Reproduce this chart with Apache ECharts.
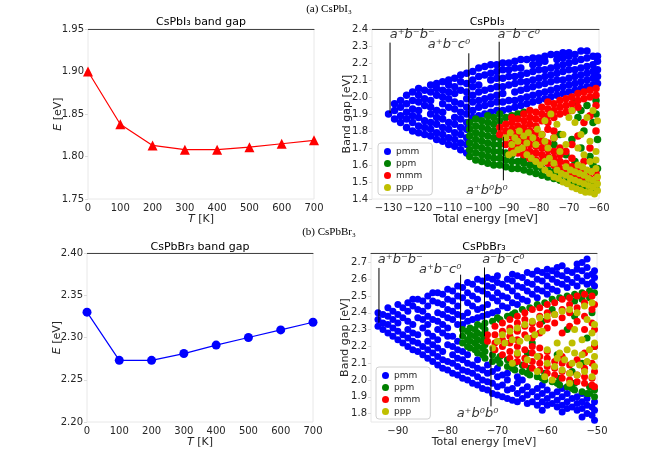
<!DOCTYPE html>
<html>
<head>
<meta charset="utf-8">
<script src="https://cdn.jsdelivr.net/npm/echarts@6/dist/echarts.min.js"></script>
<style>
  html, body { margin: 0; padding: 0; background: #fff; }
  #main { width: 658px; height: 456px; }
</style>
</head>
<body>
<div id="main"></div>
<script>
// band gap vs temperature
var temps = [0, 100, 200, 300, 400, 500, 600, 700];
var gapI = [1.900, 1.838, 1.813, 1.808, 1.808, 1.811, 1.815, 1.819];
var gapBr = [2.330, 2.273, 2.273, 2.281, 2.291, 2.300, 2.309, 2.318];

// tick values
var tickXI = [-130, -120, -110, -100, -90, -80, -70, -60];
var tickXBr = [-90, -80, -70, -60, -50];
var tickYBr = [1.8, 1.9, 2.0, 2.1, 2.2, 2.3, 2.4, 2.5, 2.6, 2.7];

// CsPbI3 scatter, columns: [energy, gap, gap, ...]
var pmmI = [
  [-130, 1.90],
  [-128, 1.87, 1.92, 1.96],
  [-126, 1.85, 1.89, 1.94, 1.98],
  [-124, 1.82, 1.87, 1.91, 1.96, 2.01],
  [-122, 1.80, 1.85, 1.89, 1.93, 1.98, 2.03],
  [-120, 1.79, 1.83, 1.88, 1.92, 1.97, 2.01, 2.05],
  [-118, 1.78, 1.82, 1.86, 1.95, 1.99, 2.04],
  [-116, 1.77, 1.81, 1.85, 1.90, 1.94, 1.98, 2.03, 2.07],
  [-114, 1.75, 1.79, 1.84, 1.88, 1.92, 2.01, 2.05, 2.08],
  [-112, 1.74, 1.78, 1.82, 1.87, 1.91, 1.96, 2.00, 2.04, 2.09],
  [-110, 1.72, 1.76, 1.81, 1.85, 1.94, 1.99, 2.03, 2.07, 2.10],
  [-108, 1.71, 1.75, 1.79, 1.84, 1.88, 1.93, 1.97, 2.02, 2.06, 2.11],
  [-106, 1.69, 1.73, 1.78, 1.82, 1.87, 1.91, 1.96, 2.04, 2.09, 2.13],
  [-104, 1.67, 1.72, 1.76, 1.81, 1.85, 1.90, 1.94, 1.99, 2.03, 2.08, 2.14],
  [-102, 1.88, 1.92, 1.97, 2.01, 2.06, 2.10, 2.15],
  [-100, 1.89, 1.94, 1.98, 2.03, 2.07, 2.12, 2.17],
  [-98, 1.90, 1.95, 1.99, 2.04, 2.13, 2.18],
  [-96, 1.91, 1.96, 2.00, 2.05, 2.10, 2.14, 2.19],
  [-94, 1.92, 1.97, 2.01, 2.06, 2.11, 2.15, 2.19],
  [-92, 1.92, 1.97, 2.02, 2.06, 2.11, 2.16, 2.20],
  [-90, 1.93, 1.98, 2.07, 2.12, 2.16, 2.20],
  [-88, 1.94, 1.98, 2.03, 2.08, 2.12, 2.17, 2.21],
  [-86, 1.95, 1.99, 2.04, 2.09, 2.13, 2.17, 2.22],
  [-84, 1.96, 2.00, 2.05, 2.09, 2.14, 2.22],
  [-82, 1.97, 2.01, 2.06, 2.10, 2.15, 2.19, 2.23],
  [-80, 1.98, 2.02, 2.07, 2.11, 2.16, 2.20, 2.23],
  [-78, 1.99, 2.03, 2.08, 2.12, 2.16, 2.21, 2.24],
  [-76, 2.00, 2.04, 2.09, 2.13, 2.17, 2.25],
  [-74, 2.01, 2.05, 2.10, 2.14, 2.18, 2.22, 2.25],
  [-72, 2.02, 2.06, 2.10, 2.15, 2.19, 2.23, 2.26],
  [-70, 2.03, 2.07, 2.11, 2.16, 2.20, 2.24, 2.26],
  [-68, 2.04, 2.08, 2.12, 2.16, 2.21, 2.25],
  [-66, 2.05, 2.09, 2.13, 2.17, 2.22, 2.27],
  [-64, 2.06, 2.10, 2.14, 2.18, 2.23, 2.27],
  [-62, 2.07, 2.11, 2.15, 2.19, 2.24],
  [-60.5, 2.08, 2.12, 2.16, 2.21, 2.24]
];
var ppmI = [
  [-103, 1.65, 1.69, 1.73, 1.77, 1.81, 1.85],
  [-101, 1.63, 1.67, 1.71, 1.75, 1.79, 1.83, 1.87],
  [-99, 1.62, 1.66, 1.70, 1.74, 1.78, 1.82, 1.86],
  [-97, 1.61, 1.65, 1.69, 1.73, 1.77, 1.81, 1.85, 1.89],
  [-95, 1.60, 1.64, 1.68, 1.72, 1.76, 1.80, 1.84, 1.88],
  [-93, 1.60, 1.64, 1.68, 1.72, 1.76, 1.86, 1.90],
  [-91, 1.59, 1.63, 1.67, 1.88],
  [-89, 1.58, 1.62, 1.66, 1.89],
  [-87, 1.58, 1.62, 1.90],
  [-85, 1.57, 1.61, 1.64, 1.91],
  [-83, 1.56, 1.60],
  [-81, 1.55, 1.59],
  [-79, 1.54, 1.58],
  [-77, 1.53, 1.57],
  [-75, 1.52, 1.56, 1.72],
  [-73, 1.51, 1.55, 1.78],
  [-71, 1.50, 1.54, 1.66],
  [-69, 1.50, 1.53, 1.75],
  [-68, 1.62, 1.97],
  [-67, 1.49, 1.52, 1.88],
  [-66, 1.70, 1.92],
  [-65, 1.48, 1.51, 1.80],
  [-64, 1.95],
  [-63, 1.47, 1.50, 1.65],
  [-62, 1.60, 1.85],
  [-61, 1.46, 1.49, 1.90, 1.98],
  [-60.5, 1.75, 1.58]
];
var mmmI = [
  [-93, 1.78, 1.82],
  [-91, 1.72, 1.76, 1.80, 1.84],
  [-89, 1.69, 1.73, 1.77, 1.81, 1.85, 1.88],
  [-87, 1.67, 1.71, 1.75, 1.79, 1.83, 1.87],
  [-85, 1.66, 1.70, 1.74, 1.78, 1.82, 1.86, 1.90],
  [-83, 1.64, 1.68, 1.72, 1.76, 1.80, 1.84, 1.88, 1.92],
  [-81, 1.63, 1.67, 1.71, 1.75, 1.79, 1.83, 1.87, 1.91],
  [-79, 1.62, 1.66, 1.70, 1.74, 1.78, 1.86, 1.90, 1.94],
  [-77, 1.61, 1.65, 1.69, 1.73, 1.81, 1.85, 1.89, 1.93, 1.97],
  [-75, 1.60, 1.64, 1.68, 1.76, 1.80, 1.88, 1.92, 1.96],
  [-73, 1.58, 1.62, 1.66, 1.70, 1.90, 1.94, 1.98],
  [-71, 1.57, 1.61, 1.68, 1.91, 1.95, 1.99],
  [-69, 1.55, 1.59, 1.64, 1.72, 1.92, 1.96, 2.00],
  [-67, 1.54, 1.58, 1.77, 1.94, 1.98, 2.02],
  [-65, 1.53, 1.57, 1.62, 1.85, 1.99, 2.03],
  [-63, 1.52, 1.56, 1.70, 1.89, 2.00, 2.04],
  [-61, 1.51, 1.55, 1.80, 1.95, 2.01, 2.05]
];
var pppI = [
  [-91, 1.76], [-89.5, 1.79], [-88, 1.76], [-86.5, 1.80], [-85, 1.77], [-83.5, 1.79],
  [-82, 1.76], [-80.5, 1.81], [-79, 1.78], [-89, 1.72], [-87, 1.74], [-84, 1.73],
  [-81, 1.72], [-78, 1.74],
  [-90, 1.66], [-88.5, 1.67], [-87, 1.69], [-85.5, 1.70], [-84, 1.66], [-82.5, 1.64],
  [-81, 1.62], [-79.5, 1.60], [-78, 1.62], [-76.5, 1.64], [-75, 1.61],
  [-78, 1.86], [-76, 1.90], [-74, 1.84], [-72, 1.78], [-71, 1.72], [-73, 1.68],
  [-70, 1.88], [-68, 1.85], [-66, 1.78], [-64, 1.88], [-62, 1.92], [-60.5, 1.86],
  [-67, 1.70], [-65, 1.66], [-63, 1.74], [-61, 1.68], [-69, 1.92], [-75, 1.76], [-77, 1.70],
  [-78, 1.57], [-76.5, 1.55], [-75, 1.53], [-73.5, 1.52], [-72, 1.50], [-70.5, 1.49],
  [-69, 1.47], [-67.5, 1.46], [-66, 1.45], [-64.5, 1.44], [-63, 1.44], [-61.5, 1.43], [-60.5, 1.45],
  [-74, 1.57], [-72.5, 1.55], [-71, 1.54], [-69.5, 1.52], [-68, 1.51], [-66.5, 1.50],
  [-65, 1.49], [-63.5, 1.48], [-62, 1.47], [-60.5, 1.49],
  [-71, 1.59], [-69.5, 1.57], [-68, 1.56], [-66.5, 1.55], [-65, 1.54], [-63.5, 1.52],
  [-62, 1.51], [-60.5, 1.53], [-67, 1.60], [-65.5, 1.59], [-64, 1.57], [-62.5, 1.56],
  [-61, 1.58], [-63, 1.62], [-61, 1.63]
];

// CsPbBr3 scatter
var pmmBr = [
  [-94, 2.32, 2.36, 2.40],
  [-93, 2.30, 2.34, 2.39],
  [-92, 2.28, 2.33, 2.38, 2.43],
  [-91, 2.26, 2.31, 2.36, 2.41],
  [-90, 2.24, 2.29, 2.34, 2.39, 2.45],
  [-89, 2.22, 2.27, 2.37, 2.43],
  [-88, 2.20, 2.25, 2.30, 2.35, 2.41, 2.46],
  [-87, 2.18, 2.23, 2.28, 2.33, 2.44, 2.48],
  [-86, 2.17, 2.22, 2.27, 2.37, 2.42, 2.48],
  [-85, 2.15, 2.20, 2.31, 2.36, 2.41, 2.47],
  [-84, 2.13, 2.18, 2.23, 2.28, 2.33, 2.38, 2.44, 2.50],
  [-83, 2.11, 2.16, 2.21, 2.26, 2.36, 2.47, 2.52],
  [-82, 2.09, 2.14, 2.19, 2.24, 2.30, 2.35, 2.40, 2.46, 2.52],
  [-81, 2.07, 2.12, 2.17, 2.28, 2.33, 2.39, 2.45, 2.51],
  [-80, 2.06, 2.11, 2.21, 2.26, 2.31, 2.37, 2.42, 2.48, 2.54],
  [-79, 2.04, 2.10, 2.15, 2.20, 2.26, 2.36, 2.41, 2.47, 2.53],
  [-78, 2.03, 2.08, 2.13, 2.18, 2.23, 2.33, 2.39, 2.44, 2.50, 2.56],
  [-77, 2.01, 2.06, 2.12, 2.17, 2.33, 2.38, 2.49, 2.55],
  [-76, 2.00, 2.05, 2.10, 2.15, 2.35, 2.40, 2.46, 2.52, 2.58],
  [-75, 1.98, 2.04, 2.09, 2.36, 2.44, 2.50, 2.57],
  [-74, 1.97, 2.02, 2.07, 2.12, 2.37, 2.42, 2.48, 2.54, 2.60],
  [-73, 1.95, 2.00, 2.06, 2.38, 2.43, 2.53, 2.59],
  [-72, 1.94, 1.99, 2.04, 2.09, 2.39, 2.45, 2.51, 2.56, 2.61],
  [-71, 1.92, 1.98, 2.05, 2.40, 2.49, 2.55, 2.60],
  [-70, 1.91, 1.96, 2.02, 2.07, 2.41, 2.47, 2.52, 2.58, 2.62],
  [-69, 1.90, 1.97, 2.03, 2.44, 2.50, 2.57],
  [-68, 1.89, 1.94, 2.00, 2.04, 2.43, 2.49, 2.55, 2.60],
  [-67, 1.88, 1.95, 2.46, 2.53, 2.59, 2.63],
  [-66, 1.87, 1.92, 1.98, 2.02, 2.45, 2.50, 2.56, 2.62],
  [-65, 1.89, 1.94, 2.00, 2.48, 2.55, 2.61],
  [-64, 1.86, 1.91, 1.96, 2.47, 2.53, 2.58, 2.64],
  [-63, 1.87, 1.93, 2.51, 2.57, 2.63],
  [-62, 1.85, 1.90, 1.95, 2.49, 2.54, 2.60, 2.65],
  [-61, 1.82, 1.87, 1.92, 1.97, 2.53, 2.59, 2.64],
  [-60, 1.85, 1.89, 1.94, 2.51, 2.56, 2.62, 2.66],
  [-59, 1.86, 1.91, 2.54, 2.60, 2.65],
  [-58, 1.84, 1.88, 1.93, 2.53, 2.58, 2.63, 2.67],
  [-57, 1.81, 1.85, 1.90, 1.95, 2.57, 2.62, 2.68],
  [-56, 1.83, 1.87, 1.92, 2.55, 2.60, 2.65],
  [-55, 1.84, 1.89, 2.58, 2.64],
  [-54, 1.82, 1.86, 1.90, 2.56, 2.61, 2.66, 2.69],
  [-53, 1.78, 1.83, 1.87, 1.92, 2.59, 2.65, 2.70],
  [-52, 1.80, 1.85, 1.89, 2.57, 2.62, 2.67, 2.72],
  [-51, 1.79, 1.84, 2.58, 2.63],
  [-50.5, 1.76, 1.82, 1.87, 2.56, 2.61, 2.65]
];
var ppmBr = [
  [-77, 2.22, 2.26, 2.30],
  [-76, 2.20, 2.24, 2.29],
  [-75.5, 2.19, 2.23, 2.27, 2.31],
  [-74.5, 2.18, 2.22, 2.26, 2.30],
  [-74, 2.16, 2.20, 2.24, 2.28, 2.33],
  [-73, 2.15, 2.19, 2.23, 2.27, 2.32],
  [-72.5, 2.13, 2.17, 2.21, 2.25, 2.30, 2.34],
  [-71, 2.11, 2.15, 2.35],
  [-70, 2.12, 2.37],
  [-69.5, 2.10, 2.14, 2.36],
  [-68, 2.08, 2.12, 2.38],
  [-67, 2.07, 2.39],
  [-66.5, 2.06, 2.10, 2.40],
  [-66, 2.30],
  [-65, 2.05, 2.09, 2.42],
  [-64, 2.16, 2.04],
  [-63.5, 2.03, 2.07, 2.43],
  [-63, 2.22],
  [-62, 2.02, 2.45],
  [-61, 2.35, 2.01],
  [-60.5, 2.00, 2.04, 2.46],
  [-59, 1.99, 2.48, 2.42],
  [-58, 2.15, 1.98],
  [-57.5, 1.97, 2.01, 2.49],
  [-56, 1.96, 2.50, 2.30],
  [-55, 2.05, 1.95],
  [-54.5, 1.94, 1.98, 2.51, 2.47, 2.38],
  [-53, 1.93, 2.52, 2.48, 2.10],
  [-52, 2.25, 1.92],
  [-51.5, 1.92, 1.96, 2.53, 2.49],
  [-51, 2.40],
  [-50.5, 1.90, 1.94, 2.52, 2.20]
];
var mmmBr = [
  [-72, 2.23, 2.27],
  [-70.5, 2.18, 2.22, 2.27, 2.32],
  [-69, 2.15, 2.20, 2.24, 2.29, 2.34],
  [-67.5, 2.13, 2.17, 2.22, 2.26, 2.31, 2.36],
  [-66, 2.11, 2.15, 2.20, 2.24, 2.29, 2.34, 2.38],
  [-64.5, 2.09, 2.13, 2.18, 2.27, 2.32, 2.36, 2.40],
  [-63, 2.07, 2.11, 2.16, 2.20, 2.25, 2.30, 2.34, 2.42],
  [-61.5, 2.06, 2.10, 2.14, 2.19, 2.28, 2.33, 2.38, 2.43],
  [-60, 2.04, 2.08, 2.13, 2.17, 2.31, 2.36, 2.40, 2.45],
  [-58.5, 2.03, 2.07, 2.11, 2.34, 2.39, 2.46],
  [-57, 2.01, 2.05, 2.10, 2.14, 2.28, 2.37, 2.42, 2.48],
  [-55.5, 2.00, 2.04, 2.09, 2.32, 2.40, 2.45, 2.49],
  [-54, 1.99, 2.03, 2.12, 2.35, 2.43, 2.50],
  [-52.5, 1.98, 2.02, 2.07, 2.16, 2.30, 2.38, 2.46, 2.51],
  [-51, 1.97, 2.01, 2.10, 2.34, 2.42, 2.50],
  [-50.5, 1.96, 2.05, 2.20, 2.30, 2.45]
];
var pppBr = [
  [-71, 2.19], [-70, 2.23], [-68.5, 2.22], [-67, 2.24], [-65.5, 2.23], [-64, 2.25],
  [-62.5, 2.27], [-61, 2.29], [-69, 2.27], [-67.5, 2.29], [-66, 2.31], [-64.5, 2.33],
  [-63, 2.35], [-61.5, 2.37], [-60, 2.38], [-58.5, 2.39], [-57, 2.41], [-55.5, 2.42],
  [-54, 2.40], [-52.5, 2.44], [-51, 2.46], [-66, 2.16], [-64, 2.12], [-62, 2.14],
  [-60, 2.18], [-58, 2.22], [-67, 2.10],
  [-60, 2.10], [-58.5, 2.08], [-57, 2.06], [-55.5, 2.04], [-54, 2.03], [-52.5, 2.05],
  [-51, 2.02], [-50.5, 2.08], [-58, 2.13], [-56.5, 2.12], [-55, 2.10], [-53.5, 2.09],
  [-52, 2.11], [-50.5, 2.14], [-56, 2.18], [-54.5, 2.16], [-53, 2.15], [-51.5, 2.18],
  [-50.5, 2.22], [-55, 2.22], [-53, 2.24], [-51, 2.28], [-50.5, 2.33], [-52, 2.36],
  [-54.5, 2.30], [-57.5, 2.16], [-62, 2.05], [-60.5, 2.02], [-59, 2.00], [-55.5, 1.98]
];

// annotation lines [x, yFrom, yTo] and labels [x, y, text]
var annLinesI = [[-129.5, 1.905, 2.32], [-103.3, 1.796, 2.257], [-93.2, 1.806, 2.325], [-91.8, 1.766, 1.51]];
var annTextI = [[-122.1, 2.365, 'a⁺b⁻b⁻'], [-109.9, 2.31, 'a⁺b⁻c⁰'], [-86.7, 2.365, 'a⁻b⁻c⁰'], [-97.3, 1.45, 'a⁺b⁰b⁰']];
var annLinesBr = [[-93.8, 2.34, 2.667], [-77.4, 2.25, 2.627], [-72.6, 2.26, 2.67], [-71.3, 2.2, 1.843]];
var annTextBr = [[-89.5, 2.717, 'a⁺b⁻b⁻'], [-81.5, 2.657, 'a⁺b⁻c⁰'], [-68.8, 2.717, 'a⁻b⁻c⁰'], [-74, 1.8, 'a⁺b⁰b⁰']];

var cBlue = '#0000ff', cGreen = '#008000', cRed = '#ff0000', cYellow = '#bfbf00';
var txt = '#262626';

function cols(arr) {
  var out = [];
  arr.forEach(function (c) {
    for (var i = 1; i < c.length; i++) out.push([c[0], c[i]]);
  });
  return out;
}
function minus(v) { return String(v).replace('-', '\u2212'); }

var grids = [
  { left: 88, top: 29, width: 226, height: 170 },
  { left: 372, top: 29, width: 227, height: 170 },
  { left: 87, top: 253, width: 226, height: 169 },
  { left: 371, top: 253, width: 226, height: 169 }
];
grids.forEach(function (g) { g.show = true; g.borderColor = '#e8e8e8'; g.borderWidth = 1; g.backgroundColor = '#fff'; });

var nameStyle = { color: txt, fontSize: 11, fontFamily: 'DejaVu Sans', rich: { i: { fontStyle: 'italic', fontSize: 11, fontFamily: 'DejaVu Sans', color: txt } } };

function xMain(gi, min, max, name, extra) {
  var a = {
    type: 'value', gridIndex: gi, min: min, max: max, name: name,
    nameLocation: 'middle', nameGap: 15, nameMoveOverlap: false, nameTextStyle: nameStyle,
    axisLine: { show: false }, axisTick: { show: false }, splitLine: { show: false },
    axisLabel: { color: txt, fontSize: 10, fontFamily: 'DejaVu Sans', margin: 4, formatter: minus }
  };
  for (var k in extra) a[k] = extra[k];
  return a;
}
function xTop(gi, min, max) {
  return {
    type: 'value', gridIndex: gi, min: min, max: max, position: 'top',
    axisLine: { show: true, lineStyle: { color: '#444', width: 1 } },
    axisTick: { show: false }, axisLabel: { show: false }, splitLine: { show: false }
  };
}
function yMain(gi, min, max, name, gap, digits, extra) {
  var a = {
    type: 'value', gridIndex: gi, min: min, max: max, name: name,
    nameLocation: 'middle', nameGap: gap, nameMoveOverlap: false, nameTextStyle: nameStyle,
    axisLine: { show: false }, splitLine: { show: false },
    axisTick: { show: true, length: 3, lineStyle: { color: '#dcdcdc' } },
    axisLabel: { color: txt, fontSize: 10, fontFamily: 'DejaVu Sans', margin: 4,
      formatter: function (v) { return v.toFixed(digits); } }
  };
  for (var k in extra) a[k] = extra[k];
  return a;
}

var xAxes = [
  xMain(0, 0, 700, '{i|T} [K]', { interval: 100 }),
  xMain(1, -135.5, -60, 'Total energy [meV]', {
    axisLabel: { color: txt, fontSize: 10, fontFamily: 'DejaVu Sans', margin: 4, formatter: minus, customValues: tickXI }
  }),
  xMain(2, 0, 700, '{i|T} [K]', { interval: 100 }),
  xMain(3, -95.4, -50, 'Total energy [meV]', {
    axisLabel: { color: txt, fontSize: 10, fontFamily: 'DejaVu Sans', margin: 4, formatter: minus, customValues: tickXBr }
  }),
  xTop(0, 0, 700), xTop(1, -135.5, -60), xTop(2, 0, 700), xTop(3, -95.4, -50)
];
var yAxes = [
  yMain(0, 1.75, 1.95, '{i|E} [eV]', 24, 2, { interval: 0.05 }),
  yMain(1, 1.4, 2.4, 'Band gap [eV]', 19, 1, { interval: 0.1 }),
  yMain(2, 2.20, 2.40, '{i|E} [eV]', 24, 2, { interval: 0.05 }),
  yMain(3, 1.75, 2.756, 'Band gap [eV]', 20, 1, {
    axisTick: { show: true, length: 3, lineStyle: { color: '#dcdcdc' }, customValues: tickYBr },
    axisLabel: { color: txt, fontSize: 10, fontFamily: 'DejaVu Sans', margin: 4, customValues: tickYBr,
      formatter: function (v) { return v.toFixed(1); } }
  })
];

function pairs(xs, ys) { return xs.map(function (x, i) { return [x, ys[i]]; }); }
function scat(name, data, ai, color, size) {
  return { type: 'scatter', name: name, xAxisIndex: ai, yAxisIndex: ai, data: data,
    symbolSize: size, itemStyle: { color: color, opacity: 1 }, silent: true, z: 2, animation: false };
}
function annSeries(lines, texts, ai) {
  var out = lines.map(function (l) {
    return { type: 'line', xAxisIndex: ai, yAxisIndex: ai, data: [[l[0], l[1]], [l[0], l[2]]],
      symbol: 'none', lineStyle: { color: '#000', width: 1 }, z: 5, silent: true, animation: false };
  });
  out.push({ type: 'scatter', xAxisIndex: ai, yAxisIndex: ai, data: texts, symbolSize: 0, z: 6, silent: true,
    label: { show: true, position: 'inside', formatter: function (p) { return p.value[2]; },
      color: '#000', fontSize: 13, fontStyle: 'italic', fontFamily: 'DejaVu Sans' } });
  return out;
}

var series = [
  { type: 'line', xAxisIndex: 0, yAxisIndex: 0, data: pairs(temps, gapI), symbol: 'triangle', symbolSize: 10,
    lineStyle: { color: cRed, width: 1.2 }, itemStyle: { color: cRed }, animation: false },
  { type: 'line', xAxisIndex: 2, yAxisIndex: 2, data: pairs(temps, gapBr), symbol: 'circle', symbolSize: 9,
    lineStyle: { color: cBlue, width: 1.2 }, itemStyle: { color: cBlue }, animation: false },
  scat('pmm', cols(pmmI), 1, cBlue, 7.5),
  scat('ppm', cols(ppmI), 1, cGreen, 7.5),
  scat('mmm', cols(mmmI), 1, cRed, 7.5),
  scat('ppp', pppI, 1, cYellow, 7),
  scat('pmm', cols(pmmBr), 3, cBlue, 7),
  scat('ppm', cols(ppmBr), 3, cGreen, 7),
  scat('mmm', cols(mmmBr), 3, cRed, 7),
  scat('ppp', pppBr, 3, cYellow, 7)
].concat(annSeries(annLinesI, annTextI, 1), annSeries(annLinesBr, annTextBr, 3));

function legendAt(left, top) {
  return {
    data: ['pmm', 'ppm', 'mmm', 'ppp'], orient: 'vertical', left: left, top: top,
    icon: 'circle', itemWidth: 7, itemHeight: 7, itemGap: 3, selectedMode: false,
    padding: [4, 10, 3, 6], backgroundColor: '#fff', borderColor: '#d0d0d0', borderWidth: 1, borderRadius: 3,
    textStyle: { color: txt, fontSize: 9, fontFamily: 'DejaVu Sans' }, z: 10
  };
}

function label(x, y, text, size, font) {
  return { type: 'text', x: x, y: y, z: 20,
    style: { text: text, fill: '#000', fontSize: size, fontFamily: font, textAlign: 'center', textVerticalAlign: 'middle' } };
}

var chart = echarts.init(document.getElementById('main'));
chart.setOption({
  animation: false,
  backgroundColor: '#fff',
  grid: grids,
  xAxis: xAxes,
  yAxis: yAxes,
  legend: [legendAt(378, 143), legendAt(376, 367)],
  graphic: [
    label(329, 9, '(a) CsPbI₃', 11, 'Liberation Serif'),
    label(329, 232, '(b) CsPbBr₃', 11, 'Liberation Serif'),
    label(201, 22, 'CsPbI₃ band gap', 11, 'DejaVu Sans'),
    label(487, 22, 'CsPbI₃', 11, 'DejaVu Sans'),
    label(200, 247, 'CsPbBr₃ band gap', 11, 'DejaVu Sans'),
    label(484, 247, 'CsPbBr₃', 11, 'DejaVu Sans')
  ],
  series: series
});
</script>
</body>
</html>
